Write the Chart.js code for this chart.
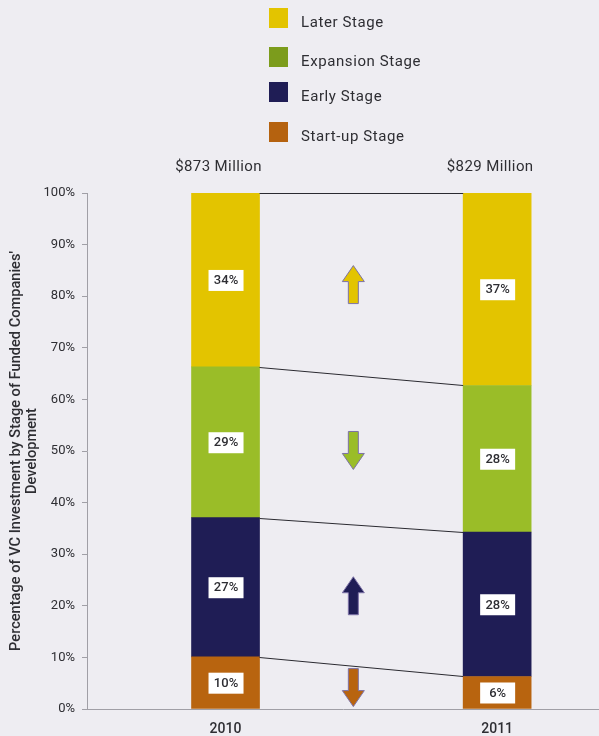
<!DOCTYPE html>
<html>
<head>
<meta charset="utf-8">
<script src="https://cdn.jsdelivr.net/npm/chart.js@4.4.1/dist/chart.umd.min.js"></script>
<style>
  html, body { margin: 0; padding: 0; background: #eeedf2; }
  #wrap { position: relative; width: 599px; height: 736px; }
</style>
</head>
<body>
<div id="wrap"><canvas id="stageChart" width="599" height="736"></canvas></div>
<script>
// years and total invested per year (millions of dollars)
const years = ['2010', '2011'];
const totals = [873, 829];

// share of investment by stage, bottom of the stack first
const stages = ['Start-up Stage', 'Early Stage', 'Expansion Stage', 'Later Stage'];
const startUp = [10.1, 6.3];
const early = [27.0, 28.0];
const expansion = [29.2, 28.4];
const later = [33.7, 37.3];
const stageColors = ['#b8640f', '#1f1d55', '#9abd28', '#e3c400'];
const swatchColors = ['#b5620f', '#1f1d55', '#7c9c1c', '#e3c400'];

const yTicks = [0, 10, 20, 30, 40, 50, 60, 70, 80, 90, 100];
const yTitle = ["Percentage of VC Investment by Stage of Funded Companies'", 'Development'];

const FONT = 'Roboto, "Open Sans", sans-serif';
const INK = '#2e2e33';

const series = [startUp, early, expansion, later];

const datasets = series.map((vals, i) => ({
    label: stages[i],
    data: vals.map((v, j) => ({ x: j, y: v })),
    backgroundColor: stageColors[i],
    borderWidth: 0,
    barThickness: 68
}));

// legend, totals, axis title, connector lines, value boxes and change arrows
const decorations = {
    id: 'decorations',
    afterDatasetsDraw(chart) {
        const ctx = chart.ctx;
        const area = chart.chartArea;
        const metas = chart.data.datasets.map((d, i) => chart.getDatasetMeta(i));
        ctx.save();

        // connectors between the tops of matching segments
        ctx.strokeStyle = '#2a2a30';
        ctx.lineWidth = 1;
        metas.forEach(meta => {
            const a = meta.data[0], b = meta.data[1];
            ctx.beginPath();
            ctx.moveTo(a.x + a.width / 2, Math.round(a.y) + 0.5);
            ctx.lineTo(b.x - b.width / 2, Math.round(b.y) + 0.5);
            ctx.stroke();
        });

        // value boxes
        ctx.font = '500 13px ' + FONT;
        ctx.textAlign = 'center';
        ctx.textBaseline = 'middle';
        metas.forEach((meta, i) => {
            meta.data.forEach((bar, j) => {
                const cy = (bar.y + bar.base) / 2;
                ctx.fillStyle = '#ffffff';
                ctx.fillRect(bar.x - 17, cy - 10, 35, 21);
                ctx.fillStyle = INK;
                ctx.fillText(Math.round(series[i][j]) + '%', bar.x + 0.5, cy + 1);
            });
        });

        // arrows showing the direction of change
        metas.forEach((meta, i) => {
            const a = meta.data[0], b = meta.data[1];
            const x = (a.x + b.x) / 2 - 8;
            const cy = ((a.y + a.base) / 2 + (b.y + b.base) / 2) / 2;
            const up = Math.round(series[i][1]) > Math.round(series[i][0]);
            const d = up ? -1 : 1;
            const h = 38, hw = 11, sw = 5, head = 16;
            const tip = cy + d * h / 2, tail = cy - d * h / 2, neck = tip - d * head;
            ctx.beginPath();
            ctx.moveTo(x, tip);
            ctx.lineTo(x + hw, neck);
            ctx.lineTo(x + sw, neck);
            ctx.lineTo(x + sw, tail);
            ctx.lineTo(x - sw, tail);
            ctx.lineTo(x - sw, neck);
            ctx.lineTo(x - hw, neck);
            ctx.closePath();
            ctx.fillStyle = stageColors[i];
            ctx.fill();
            ctx.strokeStyle = '#7d72a6';
            ctx.lineWidth = 1;
            ctx.stroke();
        });

        // y axis title, two rotated lines
        ctx.save();
        ctx.translate(0, (area.top + area.bottom) / 2);
        ctx.rotate(-Math.PI / 2);
        ctx.font = '500 14.6px ' + FONT;
        ctx.fillStyle = INK;
        yTitle.forEach((line, k) => ctx.fillText(line, 0, 16 + k * 16));
        ctx.restore();

        // yearly totals above the bars
        ctx.font = '15px ' + FONT;
        ctx.letterSpacing = '0.4px';
        ctx.fillStyle = INK;
        metas[0].data.forEach((bar, j) => {
            ctx.fillText('$' + totals[j] + ' Million', bar.x - 7, 167);
        });

        // legend, top stage first
        ctx.textAlign = 'left';
        ctx.letterSpacing = '0.6px';
        const legendY = [18, 57, 92, 132];
        for (let k = 0; k < stages.length; k++) {
            const i = stages.length - 1 - k;
            ctx.fillStyle = swatchColors[i];
            ctx.fillRect(269, legendY[k] - 10, 19, 20);
            ctx.fillStyle = INK;
            ctx.fillText(stages[i], 301, legendY[k] + 5);
        }
        ctx.restore();
    }
};

new Chart(document.getElementById('stageChart'), {
    type: 'bar',
    data: { datasets: datasets },
    options: {
        responsive: false,
        animation: false,
        layout: { padding: { top: 193, right: 0, bottom: 0, left: 0 } },
        plugins: {
            legend: { display: false },
            tooltip: { enabled: false }
        },
        scales: {
            x: {
                type: 'linear',
                stacked: true,
                offset: false,
                min: -0.51,
                max: 1.375,
                afterFit: s => { s.height = 27; },
                afterBuildTicks: s => { s.ticks = years.map((y, i) => ({ value: i })); },
                grid: { display: false, drawTicks: false, offset: false },
                border: { display: true, color: '#a09fa6', width: 1 },
                ticks: {
                    padding: 12,
                    color: INK,
                    font: { family: FONT, size: 14, weight: '500' },
                    callback: v => years[v]
                }
            },
            y: {
                stacked: true,
                min: 0,
                max: 100,
                afterFit: s => { s.width = 87; },
                afterBuildTicks: s => { s.ticks = yTicks.map(v => ({ value: v })); },
                grid: { drawOnChartArea: false, drawTicks: true, tickLength: 5, color: '#a09fa6' },
                border: { display: true, color: '#a09fa6', width: 1 },
                ticks: {
                    padding: 7,
                    color: INK,
                    font: { family: FONT, size: 13 },
                    callback: v => v + '%'
                }
            }
        }
    },
    plugins: [decorations]
});
</script>
</body>
</html>
